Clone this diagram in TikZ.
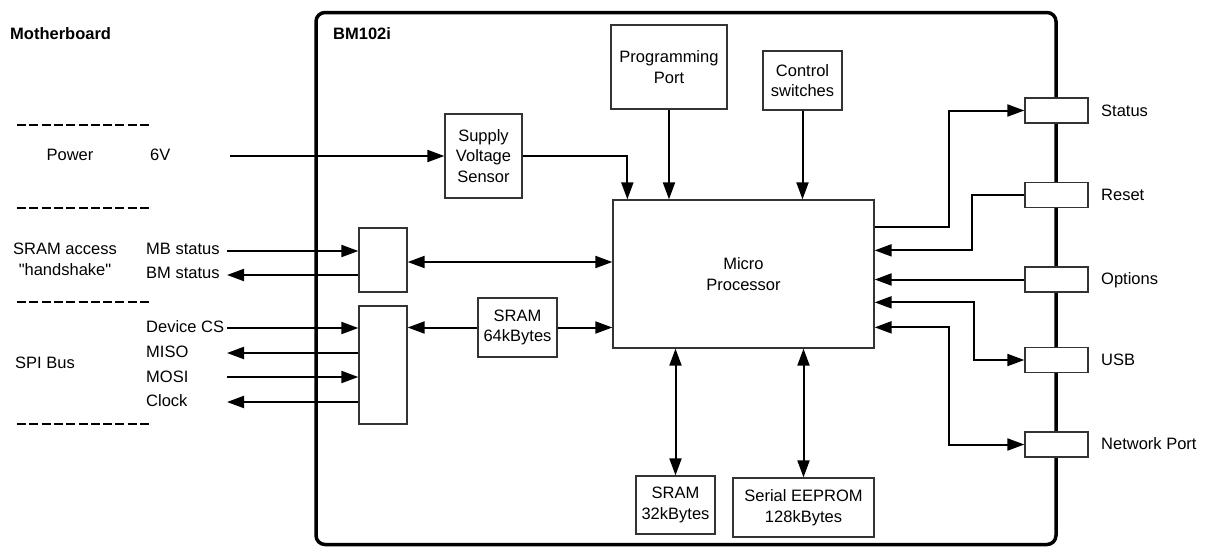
\documentclass[tikz,border=0pt]{standalone}
\usepackage{fontspec}
\setmainfont{Liberation Sans}[Ligatures=TeXOff]
\usetikzlibrary{arrows.meta,calc}
\begin{document}
\begin{tikzpicture}[x=1pt,y=-1pt,
  every node/.style={font=\fontsize{16.5}{20.5}\selectfont, inner sep=0pt},
  blk/.style={draw=black!80, line width=1.3pt, fill=white, align=center},
  port/.style={blk, minimum width=63pt, minimum height=25pt},
  arr/.style={line width=2pt, -{Triangle[length=17pt,width=12pt]}},
  arrb/.style={line width=2pt, {Triangle[length=17pt,width=12pt]}-{Triangle[length=17pt,width=12pt]}},
  sep/.style={line width=2pt, dash pattern=on 9pt off 3.3pt},
  lbl/.style={anchor=west}]
\useasboundingbox (0,0) rectangle (1211,547);
% outer board
\node[draw, line width=3.5pt, rounded corners=9pt, minimum width=740pt, minimum height=532pt] (bm) at (686,278.5) {};
\node[lbl, font=\fontsize{16.5}{20.5}\selectfont\bfseries] (bmt) at (333,34) {BM102i};
\node[lbl, font=\fontsize{16.5}{20.5}\selectfont\bfseries] (mbt) at (10,34) {Motherboard};
% separators
\draw[sep] (17,125) -- (149,125);
\draw[sep] (17,208) -- (149,208);
\draw[sep] (17,302) -- (149,302);
\draw[sep] (17,424) -- (149,424);
% left labels
\node (pwr) at (70,155) {Power};
\node[lbl] (v6) at (150,155) {6V};
\node[align=center] (hsl) at (65,259.5) {SRAM access\\"handshake"};
\node[lbl] (spil) at (15,363) {SPI Bus};
\node[lbl] (l1) at (146,249) {MB status};
\node[lbl] (l2) at (146,273) {BM status};
\node[lbl] (l3) at (146,327) {Device CS};
\node[lbl] (l4) at (146,352) {MISO};
\node[lbl] (l5) at (146,377) {MOSI};
\node[lbl] (l6) at (146,401) {Clock};
% blocks
\node[blk, minimum width=77pt, minimum height=84pt] (sup) at (483.5,156) {Supply\\Voltage\\Sensor};
\node[blk, minimum width=116pt, minimum height=84pt] (pp) at (669,67) {Programming\\Port};
\node[blk, minimum width=79pt, minimum height=59pt] (cs) at (802.5,80.5) {Control\\switches};
\node[blk, minimum width=261pt, minimum height=148pt] (mp) at (743.5,274) {Micro\\Processor};
\node[blk, minimum width=48pt, minimum height=64pt] (hs) at (383,260) {};
\node[blk, minimum width=48pt, minimum height=118pt] (spi) at (383,365) {};
\node[blk, minimum width=79pt, minimum height=59pt] (s64) at (517.5,327.5) {SRAM\\64kBytes};
\node[blk, minimum width=79pt, minimum height=58pt] (s32) at (675.5,505) {SRAM\\32kBytes};
\node[blk, minimum width=141pt, minimum height=59pt] (ee) at (803.5,507.5) {Serial EEPROM\\128kBytes};
% ports
\node[port] (st) at (1056.5,110.5) {};
\node[port] (rs) at (1056.5,195) {};
\node[port] (op) at (1056.5,279.5) {};
\node[port] (usb) at (1056.5,360) {};
\node[port] (net) at (1056.5,444.5) {};
\node[lbl] (stl) at (1101,111) {Status};
\node[lbl] (rsl) at (1101,195) {Reset};
\node[lbl] (opl) at (1101,280) {Options};
\node[lbl] (usbl) at (1101,360) {USB};
\node[lbl] (netl) at (1101,444) {Network Port};
% free ends
\coordinate (pwin) at (230,156);
\coordinate (c1) at (227,251);
\coordinate (c2) at (227,275);
\coordinate (c3) at (227,328);
\coordinate (c4) at (227,353);
\coordinate (c5) at (227,377);
\coordinate (c6) at (227,402);
% connectors
\draw[arr] (pwin) -- (sup.west);
\draw[arr] (sup.east) -| ($(mp.north west)+(15,0)$);
\draw[arr] (pp.south) -- (pp.south |- mp.north);
\draw[arr] (cs.south) -- (cs.south |- mp.north);
\draw[arr] (c1) -- (c1 -| hs.west);
\draw[arr] (c2 -| hs.west) -- (c2);
\draw[arr] (c3) -- (c3 -| spi.west);
\draw[arr] (c4 -| spi.west) -- (c4);
\draw[arr] (c5) -- (c5 -| spi.west);
\draw[arr] (c6 -| spi.west) -- (c6);
\draw[arrb] ($(hs.east)+(0,2)$) -- ($(hs.east -| mp.west)+(0,2)$);
\draw[arr] (s64.west) -- (s64.west -| spi.east);
\draw[arr] (s64.east) -- (s64.east -| mp.west);
\draw[arrb] (mp.south -| s32.north) -- (s32.north);
\draw[arrb] (mp.south -| ee.north) -- (ee.north);
\draw[arr] ($(mp.north east)+(0,28)$) -- ++(74,0) |- (st.west);
\draw[arr] (rs.west) -- ++(-52,0) |- ($(mp.north east)+(0,51)$);
\draw[arr] (op.west) -- (op.west -| mp.east);
\draw[arrb] ($(mp.north east)+(0,103)$) -- ++(99,0) |- (usb.west);
\draw[arrb] ($(mp.north east)+(0,128)$) -- ++(74,0) |- (net.west);
\end{tikzpicture}
\end{document}
